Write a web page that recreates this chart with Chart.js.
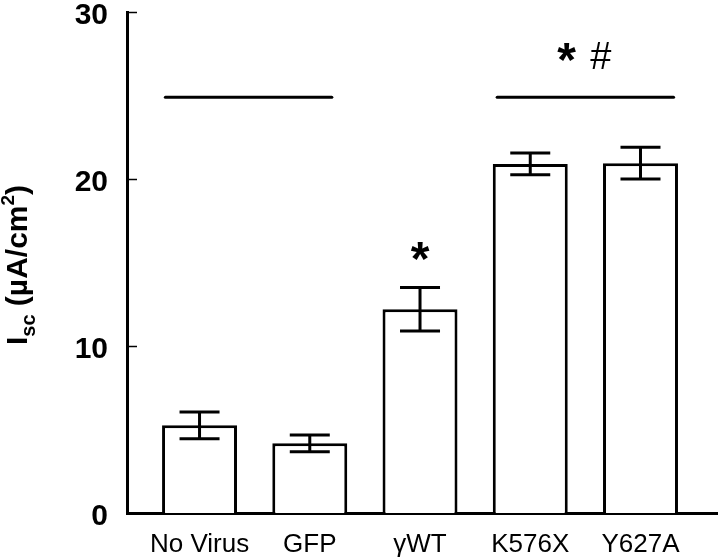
<!DOCTYPE html>
<html>
<head>
<meta charset="utf-8">
<script src="https://cdn.jsdelivr.net/npm/chart.js@4/dist/chart.umd.min.js"></script>
<style>
  html, body { margin: 0; padding: 0; background: #fff; }
  #wrap { width: 720px; height: 560px; position: relative; }
</style>
</head>
<body>
<div id="wrap"><canvas id="myChart"></canvas></div>
<script>
const categories = ["No Virus", "GFP", "γWT", "K576X", "Y627A"];
const means = [5.25, 4.17, 12.2, 20.9, 20.95];
const errors = [0.8, 0.5, 1.3, 0.65, 0.95];
const yTicks = [0, 10, 20, 30];

// significance bars (x in category units, y in µA/cm²)
const sigStartX = [-0.31, 2.7];
const sigEndX = [1.2, 4.3];
const sigY = [24.9, 24.9];

// star / hash marks
const markTexts = ["*", "*", "#"];
const markX = [2, 3.33, 3.64];
const markY = [15.7, 27.6, 27.4];

const FONT = '"Liberation Sans", Arial, Helvetica, sans-serif';

const sigSets = sigY.map((y, i) => ({
  type: "line",
  data: [{ x: sigStartX[i], y: y }, { x: sigEndX[i], y: y }],
  borderColor: "#000",
  borderWidth: 3,
  borderCapStyle: "round",
  pointRadius: 0,
  fill: false,
}));

const errorBars = {
  id: "errorBars",
  afterDatasetsDraw(chart) {
    const ctx = chart.ctx;
    const y = chart.scales.y;
    const bars = chart.getDatasetMeta(0).data;
    ctx.save();
    ctx.strokeStyle = "#000";
    ctx.lineWidth = 3;
    bars.forEach((bar, i) => {
      const top = y.getPixelForValue(means[i] + errors[i]);
      const bot = y.getPixelForValue(means[i] - errors[i]);
      ctx.beginPath();
      ctx.moveTo(bar.x, top);
      ctx.lineTo(bar.x, bot);
      ctx.moveTo(bar.x - 20, top);
      ctx.lineTo(bar.x + 20, top);
      ctx.moveTo(bar.x - 20, bot);
      ctx.lineTo(bar.x + 20, bot);
      ctx.stroke();
    });
    ctx.restore();
  },
};

const extras = {
  id: "extras",
  afterDraw(chart) {
    const ctx = chart.ctx;
    const xs = chart.scales.x;
    const ys = chart.scales.y;
    ctx.save();

    // inward tick marks on the y axis
    ctx.strokeStyle = "#000";
    ctx.lineWidth = 1.5;
    yTicks.slice(1).forEach(v => {
      const py = Math.round(ys.getPixelForValue(v)) + 0.5;
      ctx.beginPath();
      ctx.moveTo(chart.chartArea.left, py);
      ctx.lineTo(chart.chartArea.left + 10, py);
      ctx.stroke();
    });

    // * and # marks, centred on their glyph box
    ctx.fillStyle = "#000";
    ctx.textAlign = "center";
    ctx.textBaseline = "alphabetic";
    markTexts.forEach((t, i) => {
      ctx.font = t === "*" ? "bold 48px " + FONT : "38px " + FONT;
      const m = ctx.measureText(t);
      const px = xs.getPixelForValue(markX[i]);
      const py = ys.getPixelForValue(markY[i]);
      const off = (m.actualBoundingBoxAscent - m.actualBoundingBoxDescent) / 2;
      ctx.fillText(t, px, py + off);
    });

    // y axis title: I_sc (µA/cm²)
    const parts = [
      { t: "I", size: 30, dy: 0 },
      { t: "sc", size: 20, dy: 8 },
      { t: " (µA/cm", size: 30, dy: 0 },
      { t: "2", size: 19, dy: -13 },
      { t: ")", size: 30, dy: 0 },
    ];
    let total = 0;
    parts.forEach(p => {
      ctx.font = "bold " + p.size + "px " + FONT;
      p.w = ctx.measureText(p.t).width;
      total += p.w;
    });
    ctx.translate(27, 265);
    ctx.rotate(-Math.PI / 2);
    ctx.textAlign = "left";
    let cx = -total / 2;
    parts.forEach(p => {
      ctx.font = "bold " + p.size + "px " + FONT;
      ctx.fillText(p.t, cx, p.dy);
      cx += p.w;
    });
    ctx.restore();
  },
};

new Chart(document.getElementById("myChart"), {
  data: {
    datasets: [
      {
        type: "bar",
        data: categories.map((c, i) => ({ x: i, y: means[i] })),
        backgroundColor: "#fff",
        borderColor: "#000",
        borderWidth: 3,
        barPercentage: 0.68,
        categoryPercentage: 1,
      },
      ...sigSets,
    ],
  },
  options: {
    responsive: true,
    maintainAspectRatio: false,
    animation: false,
    layout: { padding: { top: 12, right: 3, left: 0, bottom: 0 } },
    plugins: { legend: { display: false }, tooltip: { enabled: false } },
    scales: {
      x: {
        type: "linear",
        offset: false,
        min: -0.658,
        max: 4.694,
        afterBuildTicks: s => { s.ticks = categories.map((c, i) => ({ value: i })); },
        afterFit: s => { s.height = 47; s.paddingLeft = 0; s.paddingRight = 0; },
        grid: { display: false, drawTicks: false },
        border: { display: true, color: "#000", width: 3 },
        ticks: {
          color: "#000",
          font: { family: FONT, size: 26 },
          padding: 16,
          maxRotation: 0,
          autoSkip: false,
          callback: v => categories[v],
        },
      },
      y: {
        min: 0,
        max: 30,
        afterBuildTicks: s => { s.ticks = yTicks.map(v => ({ value: v })); },
        afterFit: s => { s.width = 127; s.paddingTop = 0; s.paddingBottom = 0; },
        grid: { display: false, drawTicks: false },
        border: { display: true, color: "#000", width: 3 },
        ticks: {
          color: "#000",
          font: { family: FONT, size: 30, weight: "bold" },
          padding: 19,
          labelOffset: 4,
        },
      },
    },
  },
  plugins: [errorBars, extras],
});
</script>
</body>
</html>
